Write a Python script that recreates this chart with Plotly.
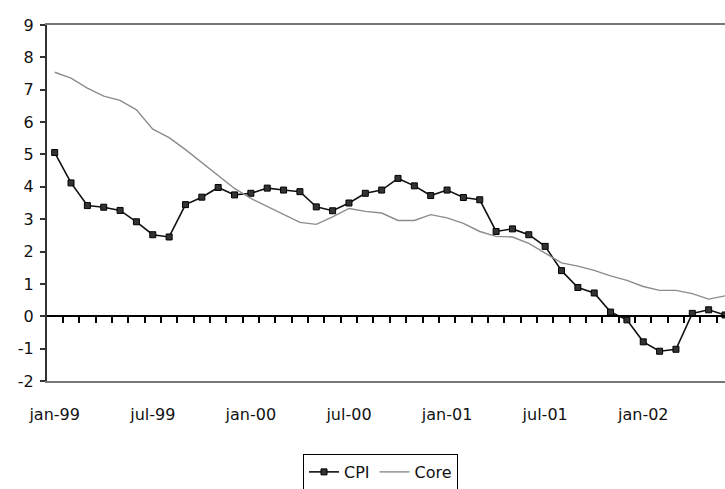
import plotly.graph_objects as go

months = [
    "jan-99", "feb-99", "mar-99", "apr-99", "mai-99", "jun-99", "jul-99", "aug-99", "sep-99", "okt-99", "nov-99", "des-99",
    "jan-00", "feb-00", "mar-00", "apr-00", "mai-00", "jun-00", "jul-00", "aug-00", "sep-00", "okt-00", "nov-00", "des-00",
    "jan-01", "feb-01", "mar-01", "apr-01", "mai-01", "jun-01", "jul-01", "aug-01", "sep-01", "okt-01", "nov-01", "des-01",
    "jan-02", "feb-02", "mar-02", "apr-02", "mai-02", "jun-02",
]
tick_labels = ["jan-99", "jul-99", "jan-00", "jul-00", "jan-01", "jul-01", "jan-02"]
y_ticks = [-2, -1, 0, 1, 2, 3, 4, 5, 6, 7, 8, 9]
y_tick_text = ["-2", "-1", "0", "1", "2", "3", "4", "5", "6", "7", "8", "9"]

cpi = [
    5.06, 4.12, 3.42, 3.37, 3.27, 2.92, 2.52, 2.45, 3.45, 3.68, 3.98, 3.75,
    3.80, 3.96, 3.90, 3.85, 3.38, 3.26, 3.50, 3.80, 3.90, 4.26, 4.03, 3.73,
    3.90, 3.67, 3.60, 2.62, 2.70, 2.52, 2.16, 1.41, 0.89, 0.72, 0.13, -0.11,
    -0.79, -1.08, -1.02, 0.09, 0.20, 0.04,
]
core = [
    7.54, 7.36, 7.05, 6.80, 6.67, 6.38, 5.78, 5.52, 5.15, 4.75, 4.35, 3.95,
    3.64, 3.40, 3.14, 2.90, 2.84, 3.07, 3.33, 3.24, 3.19, 2.96, 2.96, 3.14,
    3.04, 2.87, 2.62, 2.47, 2.45, 2.25, 1.95, 1.65, 1.55, 1.42, 1.25, 1.11,
    0.92, 0.80, 0.80, 0.70, 0.53, 0.63,
]

FONT = "DejaVu Sans"
xrange_ = [-0.47, 41.0]

fig = go.Figure()
fig.add_trace(go.Scatter(
    x=months, y=cpi, name="CPI", mode="lines+markers", xaxis="x", yaxis="y",
    line=dict(color="#111111", width=1.6),
    marker=dict(symbol="square", size=6, color="#333333", line=dict(color="#000000", width=1)),
))
fig.add_trace(go.Scatter(
    x=months, y=core, name="Core", mode="lines", xaxis="x2", yaxis="y",
    line=dict(color="#8c8c8c", width=1.4),
))

fig.update_layout(
    width=725, height=489,
    margin=dict(l=47, r=0, t=25, b=108, autoexpand=False),
    paper_bgcolor="white", plot_bgcolor="white",
    font=dict(family=FONT, size=16, color="#111111"),
    showlegend=True,
    legend=dict(
        orientation="h", x=(303 - 47) / 678, xanchor="left", y=-0.205, yanchor="top",
        bordercolor="#000000", borderwidth=1, bgcolor="white",
        font=dict(family=FONT, size=16, color="#111111"),
        itemwidth=30,
    ),
    xaxis=dict(
        type="category", categoryarray=months, categoryorder="array", range=xrange_,
        anchor="free", position=2 / 11,
        showline=True, linecolor="#000000", linewidth=1.5,
        ticks="outside", tickson="boundaries", ticklen=6, tickwidth=1.5, tickcolor="#000000",
        tickmode="array", tickvals=months, showticklabels=False,
        showgrid=False, zeroline=False,
    ),
    xaxis2=dict(
        type="category", categoryarray=months, categoryorder="array", range=xrange_,
        overlaying="x", anchor="y", side="bottom",
        showline=True, mirror=True, linecolor="#777777", linewidth=1.5,
        ticks="", tickmode="array", tickvals=tick_labels, ticktext=tick_labels,
        ticklabelstandoff=18,
        showgrid=False, zeroline=False,
        tickfont=dict(family=FONT, size=16, color="#111111"),
    ),
    yaxis=dict(
        range=[-2, 9], tickmode="array", tickvals=y_ticks, ticktext=y_tick_text, anchor="x",
        showline=True, linecolor="#333333", linewidth=2,
        ticks="outside", ticklen=5, tickwidth=1.5, tickcolor="#333333",
        ticklabelstandoff=3,
        showgrid=False, zeroline=False,
        tickfont=dict(family=FONT, size=16, color="#111111"),
    ),
)

fig.write_html("out.html")
